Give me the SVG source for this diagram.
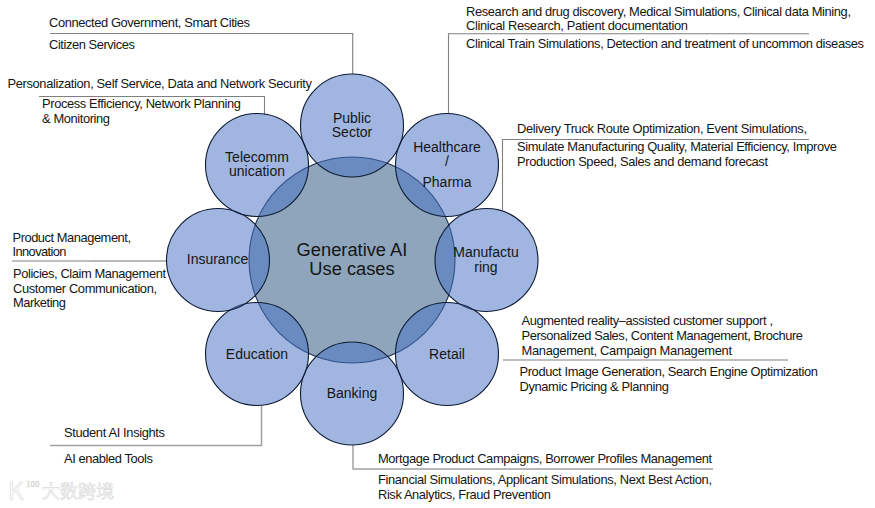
<svg xmlns="http://www.w3.org/2000/svg" width="875" height="508" viewBox="0 0 875 508">
<style>
text{font-family:"Liberation Sans",Arial,sans-serif;fill:#151515}
.t{font-size:12.9px}
.n{font-size:14px;text-anchor:middle}
.c{font-size:18.3px;text-anchor:middle}
.sat{fill:#4873c3;fill-opacity:.52;stroke:#0d1a33;stroke-width:1.1}
.core{fill:#8fa5bc;stroke:#1a2a4a;stroke-width:1.1}
.l{fill:none;stroke:#808080;stroke-width:1.1}
.g{fill:none;stroke:#a0a0a0;stroke-width:1.5}
.wm{font-family:"Noto Sans CJK SC","Liberation Sans",sans-serif;fill:#fff;stroke:#dcdcdc;stroke-width:.7}
</style>
<rect width="875" height="508" fill="#fff"/>
<g id="connectors">
<path class="l" d="M50 33.5H352.7V74"/>
<path class="l" d="M39 96.5H264.5V115"/>
<path class="l" d="M809 33.7H448.5V113"/>
<path class="l" d="M809 139.5H502.5V210"/>
<path class="l" d="M12 261H90"/>
<path class="g" d="M90 261H167"/>
<path class="l" d="M503 360H788"/>
<path class="g" d="M261.5 406V445.5H50"/>
<path class="g" d="M353 445V469H713"/>
</g>
<g id="node-center">
<circle class="core" cx="352" cy="260" r="103"/>
<text class="c" x="352" y="256">Generative AI</text>
<text class="c" x="352" y="275">Use cases</text>
</g>
<g id="node-public">
<circle class="sat" cx="352" cy="125.5" r="51.5"/>
<text class="n" x="352" y="122.7">Public</text>
<text class="n" x="352" y="137">Sector</text>
<text class="t" x="49" y="27" textLength="201">Connected Government, Smart Cities</text>
<text class="t" x="49" y="49" textLength="86">Citizen Services</text>
</g>
<g id="node-healthcare">
<circle class="sat" cx="447" cy="165" r="51.5"/>
<text class="n" x="447" y="151.7">Healthcare</text>
<text class="n" x="447" y="166">/</text>
<text class="n" x="447" y="186.7">Pharma</text>
<text class="t" x="466" y="16" textLength="385">Research and drug discovery, Medical Simulations, Clinical data Mining,</text>
<text class="t" x="466" y="30" textLength="222">Clinical Research, Patient documentation</text>
<text class="t" x="466" y="48" textLength="398">Clinical Train Simulations, Detection and treatment of uncommon diseases</text>
</g>
<g id="node-manufacturing">
<circle class="sat" cx="486.5" cy="260" r="51.5"/>
<text class="n" x="486" y="257">Manufactu</text>
<text class="n" x="486" y="271.7">ring</text>
<text class="t" x="517" y="133" textLength="290">Delivery Truck Route Optimization, Event Simulations,</text>
<text class="t" x="517" y="151" textLength="320">Simulate Manufacturing Quality, Material Efficiency, Improve</text>
<text class="t" x="517" y="166" textLength="251">Production Speed, Sales and demand forecast</text>
</g>
<g id="node-retail">
<circle class="sat" cx="447" cy="354" r="51.5"/>
<text class="n" x="447" y="359">Retail</text>
<text class="t" x="521.5" y="325" textLength="251.5">Augmented reality–assisted customer support ,</text>
<text class="t" x="521.5" y="340" textLength="281.5">Personalized Sales, Content Management, Brochure</text>
<text class="t" x="521.5" y="354.5" textLength="210.5">Management,  Campaign Management</text>
<text class="t" x="519.5" y="376" textLength="298.5">Product Image Generation, Search Engine Optimization</text>
<text class="t" x="519.5" y="391" textLength="149.5">Dynamic Pricing &amp; Planning</text>
</g>
<g id="node-banking">
<circle class="sat" cx="352" cy="393.5" r="51.5"/>
<text class="n" x="352" y="398">Banking</text>
<text class="t" x="378" y="463" textLength="334">Mortgage Product Campaigns, Borrower Profiles Management</text>
<text class="t" x="378" y="484" textLength="334">Financial Simulations, Applicant Simulations, Next Best Action,</text>
<text class="t" x="378" y="499" textLength="173">Risk Analytics, Fraud Prevention</text>
</g>
<g id="node-education">
<circle class="sat" cx="257" cy="354" r="51.5"/>
<text class="n" x="257" y="359">Education</text>
<text class="t" x="64" y="437" textLength="101">Student AI Insights</text>
<text class="t" x="64" y="463" textLength="89">AI enabled Tools</text>
</g>
<g id="node-insurance">
<circle class="sat" cx="218" cy="260" r="51.5"/>
<text class="n" x="217.5" y="264">Insurance</text>
<text class="t" x="12.5" y="242" textLength="118.5">Product Management,</text>
<text class="t" x="12.5" y="256" textLength="54">Innovation</text>
<text class="t" x="13" y="278" textLength="153">Policies, Claim Management</text>
<text class="t" x="13" y="293" textLength="144">Customer Communication,</text>
<text class="t" x="13" y="307" textLength="53">Marketing</text>
</g>
<g id="node-telecom">
<circle class="sat" cx="257" cy="165" r="51.5"/>
<text class="n" x="257" y="161.7">Telecomm</text>
<text class="n" x="257" y="176">unication</text>
<text class="t" x="7.5" y="87.5" textLength="304.5">Personalization, Self Service, Data and Network Security</text>
<text class="t" x="42" y="108" textLength="199">Process Efficiency, Network Planning</text>
<text class="t" x="42" y="122.5" textLength="68">&amp; Monitoring</text>
</g>
<g id="watermark">
<text class="wm" x="8" y="500" font-size="24">K</text>
<text class="wm" x="26" y="487" font-size="8">100</text>
<text class="wm" x="42" y="498" font-size="18">大数跨境</text>
</g>
</svg>
